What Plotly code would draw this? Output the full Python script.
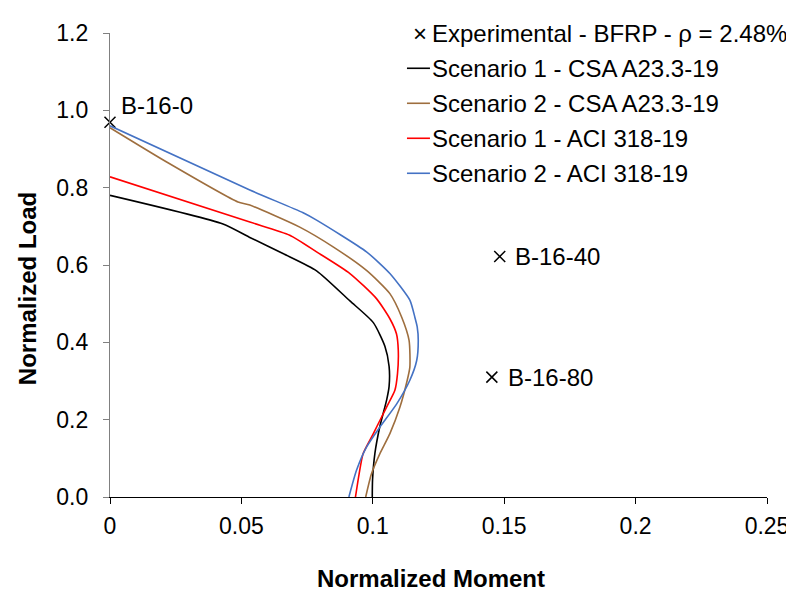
import plotly.graph_objects as go

# Experimental points
exp_x = [0.0, 0.1483, 0.1453]
exp_y = [0.969, 0.622, 0.310]
exp_labels = ["B-16-0", "B-16-40", "B-16-80"]

# Scenario 1 - CSA A23.3-19
s1_csa_x = [0.0, 0.043, 0.053, 0.066, 0.0786, 0.0913, 0.1002, 0.1046, 0.1062, 0.1062, 0.1053, 0.1027, 0.1008, 0.0999, 0.0998]
s1_csa_y = [0.78, 0.706, 0.672, 0.629, 0.585, 0.507, 0.451, 0.390, 0.338, 0.286, 0.252, 0.183, 0.113, 0.044, 0.0]

# Scenario 2 - CSA A23.3-19
s2_csa_x = [0.0, 0.0214, 0.0487, 0.0532, 0.0722, 0.0849, 0.0976, 0.1065, 0.111, 0.1138, 0.1141, 0.1131, 0.1103, 0.1065, 0.1027, 0.0995, 0.0973]
s2_csa_y = [0.955, 0.867, 0.763, 0.755, 0.698, 0.647, 0.586, 0.526, 0.465, 0.405, 0.336, 0.302, 0.232, 0.164, 0.112, 0.06, 0.0]

# Scenario 1 - ACI 318-19
s1_aci_x = [0.0, 0.0532, 0.0684, 0.0786, 0.0913, 0.1014, 0.1065, 0.109, 0.1097, 0.1094, 0.1084, 0.1052, 0.1002, 0.0963, 0.0948, 0.0934]
s1_aci_y = [0.828, 0.711, 0.677, 0.634, 0.578, 0.513, 0.461, 0.422, 0.379, 0.319, 0.276, 0.232, 0.164, 0.112, 0.06, 0.0]

# Scenario 2 - ACI 318-19
s2_aci_x = [0.0, 0.0532, 0.0735, 0.0786, 0.0976, 0.1065, 0.1141, 0.116, 0.1169, 0.1173, 0.1167, 0.1141, 0.1091, 0.1027, 0.0976, 0.0938, 0.0909]
s2_aci_y = [0.960, 0.794, 0.735, 0.716, 0.634, 0.578, 0.509, 0.465, 0.44, 0.405, 0.353, 0.302, 0.241, 0.181, 0.129, 0.069, 0.0]

exp_name = "Experimental - BFRP - ρ = 2.48%"
series_names = ["Scenario 1 - CSA A23.3-19", "Scenario 2 - CSA A23.3-19",
                "Scenario 1 - ACI 318-19", "Scenario 2 - ACI 318-19"]
series_colors = ["#000000", "#9E6E3E", "#FF0000", "#4472C4"]
series_x = [s1_csa_x, s2_csa_x, s1_aci_x, s2_aci_x]
series_y = [s1_csa_y, s2_csa_y, s1_aci_y, s2_aci_y]

x_ticks = [0, 0.05, 0.1, 0.15, 0.2, 0.25]
x_ticktext = ["0", "0.05", "0.1", "0.15", "0.2", "0.25"]
y_ticks = [0.0, 0.2, 0.4, 0.6, 0.8, 1.0, 1.2]
y_ticktext = ["0.0", "0.2", "0.4", "0.6", "0.8", "1.0", "1.2"]

FONT = "Liberation Sans, Arial, sans-serif"
LBL_SHIFT = [(9, 17), (13, 0), (14, 0)]

fig = go.Figure()
fig.add_trace(go.Scatter(
    x=exp_x, y=exp_y, mode="markers", name=exp_name, showlegend=False,
    marker=dict(symbol="x-thin", size=11, color="black", line=dict(width=1.5, color="black")),
    cliponaxis=False,
))
for sx, sy, nm, col in zip(series_x, series_y, series_names, series_colors):
    fig.add_trace(go.Scatter(x=sx, y=sy, mode="lines", name=nm, showlegend=False,
                             line=dict(color=col, width=1.6, shape="spline", smoothing=0.6)))

for xv, yv, lbl, (dx, dy) in zip(exp_x, exp_y, exp_labels, LBL_SHIFT):
    fig.add_annotation(x=xv, y=yv, xref="x", yref="y", text=lbl, showarrow=False,
                       xanchor="left", yanchor="middle", xshift=dx, yshift=dy,
                       font=dict(family=FONT, size=24, color="black"))

# Legend (drawn in paper coordinates, top right)
LEG_TEXT_X = 0.4870
LEG_SYM_X = 0.4718
LEG_LINE_X0, LEG_LINE_X1 = 0.452, 0.487
LEG_Y0, LEG_DY = 0.9994, 0.07543

fig.add_annotation(x=LEG_SYM_X, y=LEG_Y0, xref="paper", yref="paper", text="×", showarrow=False,
                   xanchor="center", yanchor="middle", font=dict(family=FONT, size=24, color="black"))
fig.add_annotation(x=LEG_TEXT_X, y=LEG_Y0, xref="paper", yref="paper", text=exp_name, showarrow=False,
                   xanchor="left", yanchor="middle", font=dict(family=FONT, size=24, color="black"))
for i, (nm, col) in enumerate(zip(series_names, series_colors)):
    yy = LEG_Y0 - LEG_DY * (i + 1)
    fig.add_shape(type="line", xref="paper", yref="paper", x0=LEG_LINE_X0, x1=LEG_LINE_X1, y0=yy, y1=yy,
                  line=dict(color=col, width=1.6))
    fig.add_annotation(x=LEG_TEXT_X, y=yy, xref="paper", yref="paper", text=nm, showarrow=False,
                       xanchor="left", yanchor="middle", font=dict(family=FONT, size=24, color="black"))

fig.add_annotation(x=0.489, y=-0.1746, xref="paper", yref="paper", text="<b>Normalized Moment</b>",
                   showarrow=False, xanchor="center", yanchor="middle",
                   font=dict(family=FONT, size=24, color="black"))
fig.add_annotation(x=-0.1263, y=0.448, xref="paper", yref="paper", text="<b>Normalized Load</b>",
                   showarrow=False, xanchor="center", yanchor="middle", textangle=-90,
                   font=dict(family=FONT, size=24, color="black"))

fig.update_layout(
    width=786, height=585,
    margin=dict(l=102, r=27, t=25, b=96),
    paper_bgcolor="white", plot_bgcolor="white",
    font=dict(family=FONT, size=23, color="black"),
    showlegend=False,
    xaxis=dict(range=[0, 0.25], tickvals=x_ticks, ticktext=x_ticktext, automargin=False,
               showgrid=False, zeroline=False, showline=True, linecolor="black", linewidth=1.2,
               ticks="outside", ticklen=6, tickcolor="black", ticklabelstandoff=2,
               tickfont=dict(family=FONT, size=23, color="black")),
    yaxis=dict(range=[0, 1.2], tickvals=y_ticks, ticktext=y_ticktext, automargin=False,
               showgrid=False, zeroline=False, showline=True, linecolor="#808080", linewidth=1.2,
               ticks="outside", ticklen=6, tickcolor="#808080", ticklabelstandoff=10,
               tickfont=dict(family=FONT, size=23, color="black")),
)

fig.write_html("out.html")
